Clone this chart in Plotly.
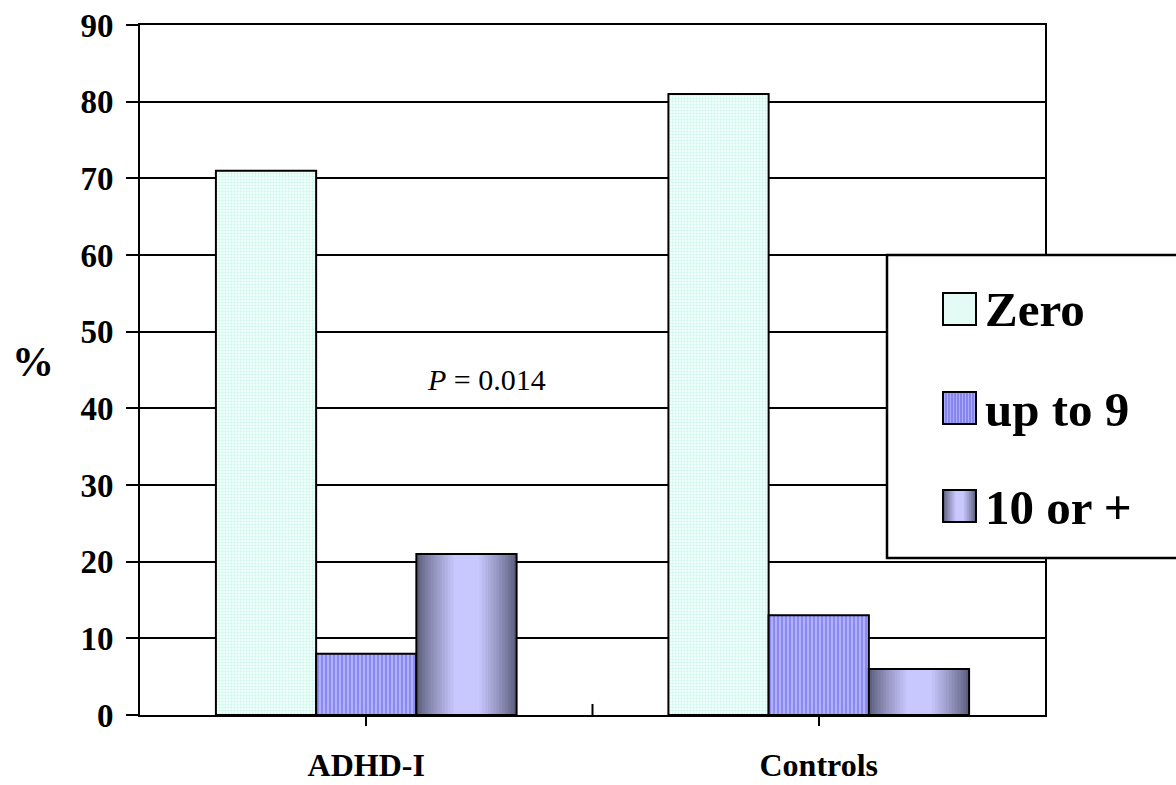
import plotly.graph_objects as go

# ---- data ----
categories = ["ADHD-I", "Controls"]
series_names = ["Zero", "up to 9", "10 or +"]
zero_vals = [71, 81]
upto9_vals = [8, 13]
tenplus_vals = [21, 6]
y_ticks = [0, 10, 20, 30, 40, 50, 60, 70, 80, 90]
p_text = "<i>P</i> = 0.014"

FONT = "Liberation Serif"
W = 0.2215  # bar width in category units

def lerp(c1, c2, t):
    return "rgb(%d,%d,%d)" % tuple(round(a + (b - a) * t) for a, b in zip(c1, c2))

DARK = (92, 94, 124)
LIGHT = (200, 200, 255)

fig = go.Figure()

# Zero
fig.add_trace(go.Bar(
    x=categories, y=zero_vals, name=series_names[0], width=W, offset=-1.5 * W,
    marker=dict(color="#E8FFF8", line=dict(color="black", width=2),
                pattern=dict(shape=".", fgcolor="#A8E8D8", bgcolor="#EEFFFA", size=3, solidity=0.35)),
    showlegend=False))

# up to 9
fig.add_trace(go.Bar(
    x=categories, y=upto9_vals, name=series_names[1], width=W, offset=-0.5 * W,
    marker=dict(color="#A8A8FF", line=dict(color="black", width=2),
                pattern=dict(shape="|", fgcolor="#5C5CD8", bgcolor="#B0B0FF", size=4, solidity=0.45)),
    showlegend=False))

# 10 or + : gradient built from nested bars of the same values
N = 14
for i in range(N):
    d = i * 0.40 / N
    t = min(1.0, (i / (N - 1)) ** 0.85)
    fig.add_trace(go.Bar(
        x=categories, y=tenplus_vals, name=series_names[2],
        width=W * (1 - 2 * d), offset=0.5 * W + d * W,
        marker=dict(color=lerp(DARK, LIGHT, t), line=dict(width=0)),
        showlegend=False, hoverinfo="skip" if i else None))
fig.add_trace(go.Bar(
    x=categories, y=tenplus_vals, name=series_names[2], width=W, offset=0.5 * W,
    marker=dict(color="rgba(0,0,0,0)", line=dict(color="black", width=2)),
    showlegend=False, hoverinfo="skip"))

fig.update_layout(
    width=1176, height=785,
    margin=dict(l=140, r=131, t=25, b=70, autoexpand=False),
    barmode="overlay",
    paper_bgcolor="white", plot_bgcolor="white",
    font=dict(family=FONT, color="black"),
    xaxis=dict(
        type="category", range=[-0.5, 1.5], automargin=False,
        showline=True, linecolor="black", linewidth=2, mirror=True,
        ticks="outside", ticklen=9, tickwidth=2, tickcolor="black",
        tickfont=dict(family=FONT, size=32, color="black", weight="bold"),
        ticklabelstandoff=12, ticklabeloverflow="allow",
        showgrid=False, zeroline=False,
    ),
    yaxis=dict(
        range=[0, 90], tickvals=y_ticks, automargin=False,
        showline=True, linecolor="black", linewidth=2, mirror=True,
        ticks="outside", ticklen=12, tickwidth=2, tickcolor="black",
        tickfont=dict(family=FONT, size=33, color="black", weight="bold"),
        ticklabelstandoff=6, ticklabeloverflow="allow",
        showgrid=True, gridcolor="black", gridwidth=2, zeroline=False,
    ),
)

shapes = []
# inside tick between categories
shapes.append(dict(type="line", xref="x", yref="paper", x0=0.5, x1=0.5, y0=0, y1=0.016,
                   line=dict(color="black", width=2)))

# manual legend (pixel -> paper coords; plot area spans 140..1045 x 25..715)
def px2x(px):
    return (px - 140) / 905.0

def py2y(py):
    return (715 - py) / 690.0

shapes.append(dict(type="rect", xref="paper", yref="paper",
                   x0=px2x(887), x1=px2x(1190), y0=py2y(558), y1=py2y(255),
                   fillcolor="white", line=dict(color="black", width=2.5)))

sw_x0, sw_x1 = px2x(943), px2x(976)
rows = [(293, 325), (392, 424), (490, 522)]
# Zero swatch
shapes.append(dict(type="rect", xref="paper", yref="paper", x0=sw_x0, x1=sw_x1,
                   y0=py2y(rows[0][1]), y1=py2y(rows[0][0]), fillcolor="#E4FAF4",
                   line=dict(color="black", width=2)))
# up to 9 swatch (striped)
shapes.append(dict(type="rect", xref="paper", yref="paper", x0=sw_x0, x1=sw_x1,
                   y0=py2y(rows[1][1]), y1=py2y(rows[1][0]), fillcolor="#ABABFF",
                   line=dict(width=0)))
for k in range(1, 11):
    xx = px2x(943 + k * 3)
    shapes.append(dict(type="line", xref="paper", yref="paper", x0=xx, x1=xx,
                       y0=py2y(rows[1][1]), y1=py2y(rows[1][0]),
                       line=dict(color="#6060D8", width=1)))
shapes.append(dict(type="rect", xref="paper", yref="paper", x0=sw_x0, x1=sw_x1,
                   y0=py2y(rows[1][1]), y1=py2y(rows[1][0]), fillcolor="rgba(0,0,0,0)",
                   line=dict(color="black", width=2)))
# 10 or + swatch (gradient)
M = 8
for i in range(M):
    d = i * 0.42 / M
    t = min(1.0, (i / (M - 1)) ** 0.85)
    shapes.append(dict(type="rect", xref="paper", yref="paper",
                       x0=px2x(943 + 33 * d), x1=px2x(976 - 33 * d),
                       y0=py2y(rows[2][1]), y1=py2y(rows[2][0]),
                       fillcolor=lerp(DARK, LIGHT, t), line=dict(width=0)))
shapes.append(dict(type="rect", xref="paper", yref="paper", x0=sw_x0, x1=sw_x1,
                   y0=py2y(rows[2][1]), y1=py2y(rows[2][0]), fillcolor="rgba(0,0,0,0)",
                   line=dict(color="black", width=2)))

annotations = []
for name, (a, b) in zip(series_names, rows):
    annotations.append(dict(xref="paper", yref="paper", x=px2x(983), y=py2y((a + b) / 2 + 1),
                            xanchor="left", yanchor="middle", showarrow=False, text=name,
                            font=dict(family=FONT, size=49, color="black", weight="bold")))

annotations.append(dict(xref="paper", yref="paper", x=px2x(33), y=py2y(362),
                        xanchor="center", yanchor="middle", showarrow=False, text="%",
                        font=dict(family=FONT, size=42, color="black", weight="bold")))
annotations.append(dict(xref="x", yref="y", x=0.265, y=43.8, xanchor="center", yanchor="middle",
                        showarrow=False, text=p_text,
                        font=dict(family=FONT, size=30, color="black")))

fig.update_layout(shapes=shapes, annotations=annotations)

fig.write_html("out.html", config={"displayModeBar": False},
               post_script="document.body.style.margin='0';document.body.style.overflow='hidden';")
